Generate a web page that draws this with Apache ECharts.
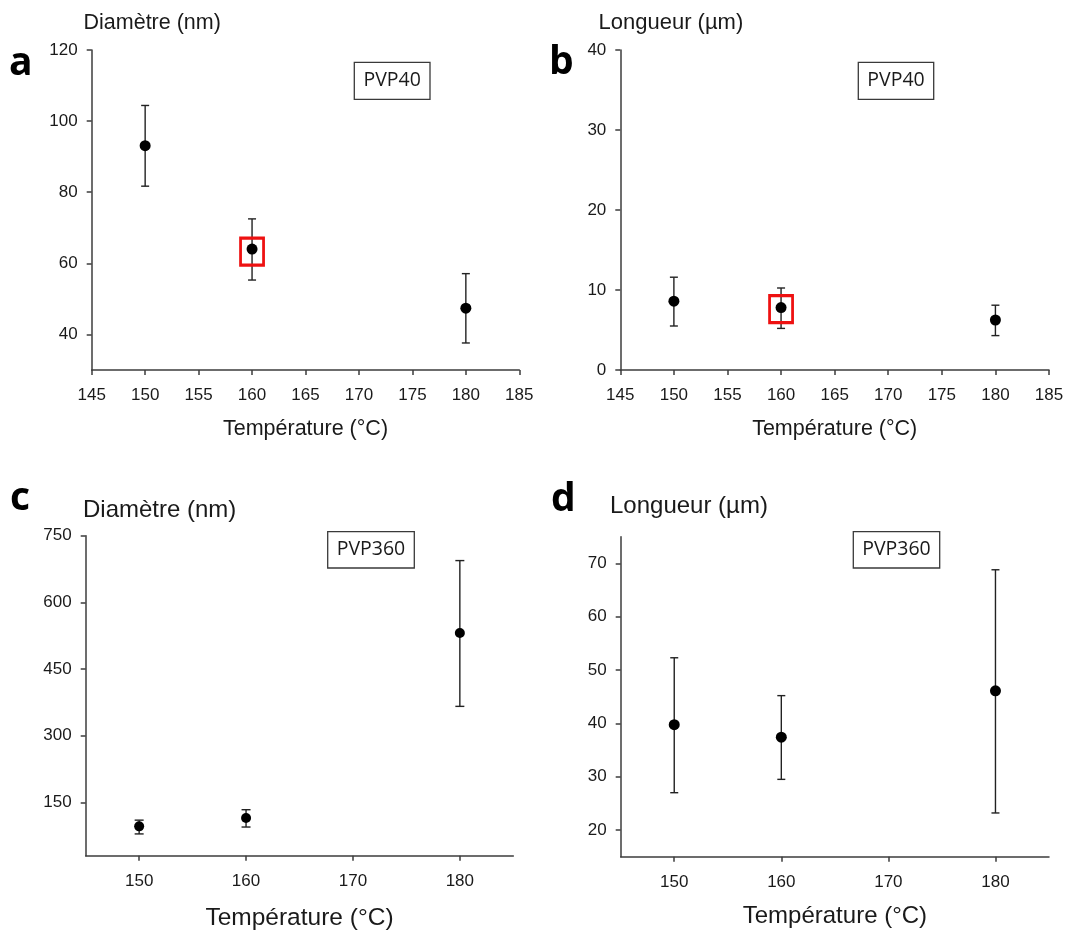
<!DOCTYPE html>
<html>
<head>
<meta charset="utf-8">
<script src="https://cdn.jsdelivr.net/npm/echarts@6/dist/echarts.min.js"></script>
<style>html,body{margin:0;padding:0;background:#fff}#c{width:1086px;height:930px}</style>
</head>
<body>
<div id="c"></div>
<script>
// ---- data ----
const temps = [150, 160, 180];
// (a) PVP40 diameter (nm)
const diamPVP40 = [93.1, 64.0, 47.4];
const diamPVP40Lo = [81.7, 55.3, 37.6];
const diamPVP40Hi = [104.4, 72.5, 57.1];
// (b) PVP40 length (µm)
const lenPVP40 = [8.6, 7.8, 6.25];
const lenPVP40Lo = [5.5, 5.2, 4.3];
const lenPVP40Hi = [11.6, 10.25, 8.1];
// (c) PVP360 diameter (nm)
const diamPVP360 = [96, 115, 531];
const diamPVP360Lo = [79, 94.5, 366];
const diamPVP360Hi = [110, 133.5, 694];
// (d) PVP360 length (µm)
const lenPVP360 = [39.75, 37.4, 46.1];
const lenPVP360Lo = [27, 29.5, 23.2];
const lenPVP360Hi = [52.3, 45.2, 68.8];
// highlighted sample (red square) at 160 °C
const highlightA = [[160, 63.3]];
const highlightB = [[160, 7.6]];
// tick labels
const xTicksCD = [150, 160, 170, 180];
const yTicksA = [40, 60, 80, 100, 120];
const yTicksC = [150, 300, 450, 600, 750];
const yTicksD = [20, 30, 40, 50, 60, 70];

const labelFont = '"Liberation Sans", Arial, sans-serif';
const axisColor = '#3c3c3c';
const textColor = '#1a1a1a';

function pts(vals) { return temps.map((t, i) => [t, vals[i]]); }
function bars(lo, hi) { return temps.map((t, i) => [t, lo[i], hi[i]]); }

function errRender(cap) {
  return function (params, api) {
    const x = api.value(0), lo = api.value(1), hi = api.value(2);
    const a = api.coord([x, hi]);
    const b = api.coord([x, lo]);
    const h = cap / 2;
    const st = { stroke: '#222', lineWidth: 1.4 };
    return {
      type: 'group',
      children: [
        { type: 'line', shape: { x1: a[0], y1: a[1], x2: b[0], y2: b[1] }, style: st },
        { type: 'line', shape: { x1: a[0] - h, y1: a[1], x2: a[0] + h, y2: a[1] }, style: st },
        { type: 'line', shape: { x1: b[0] - h, y1: b[1], x2: b[0] + h, y2: b[1] }, style: st }
      ]
    };
  };
}

function xAxisCfg(idx, custom) {
  const ax = {
    type: 'value', gridIndex: idx, min: 145, max: 185,
    splitLine: { show: false },
    axisLine: { lineStyle: { color: axisColor, width: 1.5 } },
    axisTick: { length: 5, lineStyle: { color: axisColor, width: 1.5 } },
    axisLabel: { fontFamily: labelFont, fontSize: 17, color: textColor, margin: 17 }
  };
  if (custom) {
    ax.axisLabel.customValues = custom;
    ax.axisTick.customValues = custom;
  } else {
    ax.interval = 5;
  }
  return ax;
}
function yAxisCfg(idx, min, max, custom, interval) {
  const ax = {
    type: 'value', gridIndex: idx, min: min, max: max,
    splitLine: { show: false },
    axisLine: { show: true, lineStyle: { color: axisColor, width: 1.5 } },
    axisTick: { show: true, length: 5, lineStyle: { color: axisColor, width: 1.5 } },
    axisLabel: { fontFamily: labelFont, fontSize: 17, color: textColor, margin: 14 }
  };
  if (custom) {
    ax.axisLabel.customValues = custom;
    ax.axisTick.customValues = custom;
  } else {
    ax.interval = interval;
  }
  return ax;
}

function scatter(idx, data, size) {
  return {
    type: 'scatter', xAxisIndex: idx, yAxisIndex: idx, data: data,
    symbol: 'circle', symbolSize: size, z: 5,
    itemStyle: { color: '#000', opacity: 1 }
  };
}
function errSeries(idx, data, cap) {
  return {
    type: 'custom', xAxisIndex: idx, yAxisIndex: idx, data: data,
    renderItem: errRender(cap), encode: { x: 0, y: [1, 2] }, z: 3
  };
}
function highlight(idx, data) {
  return {
    type: 'scatter', xAxisIndex: idx, yAxisIndex: idx, data: data,
    symbol: 'rect', symbolSize: [23, 27], z: 6,
    itemStyle: { color: 'rgba(0,0,0,0)', borderColor: '#ee1111', borderWidth: 3, opacity: 1 }
  };
}

function txt(x, y, s, size, opts) {
  return {
    type: 'text', x: x, y: y, silent: true,
    style: Object.assign({
      text: s, font: size + 'px ' + labelFont, fill: textColor,
      align: 'left', verticalAlign: 'middle'
    }, opts || {})
  };
}
function letter(x, y, s) {
  return {
    type: 'text', x: x, y: y, silent: true,
    style: { text: s, font: 'bold 39px "Open Sans", sans-serif', fill: '#000', align: 'left', verticalAlign: 'middle' }
  };
}
function box(x1, y1, x2, y2, s) {
  return [
    { type: 'rect', shape: { x: x1, y: y1, width: x2 - x1, height: y2 - y1 }, silent: true,
      style: { fill: '#fff', stroke: '#3a3a3a', lineWidth: 1.3 } },
    { type: 'text', x: (x1 + x2) / 2, y: (y1 + y2) / 2, silent: true,
      style: { text: s, font: '19.5px "Open Sans", sans-serif', fill: '#1a1a1a', align: 'center', verticalAlign: 'middle' } }
  ];
}

const chart = echarts.init(document.getElementById('c'), null, { renderer: 'canvas' });
chart.setOption({
  animation: false,
  backgroundColor: '#fff',
  grid: [
    { left: 91.7, top: 50, width: 427.6, height: 320, outerBoundsMode: 'none' },
    { left: 620.3, top: 50, width: 428.7, height: 320, outerBoundsMode: 'none' },
    { left: 85.7, top: 535.7, width: 427.6, height: 320, outerBoundsMode: 'none' },
    { left: 620.7, top: 536.7, width: 428.3, height: 320, outerBoundsMode: 'none' }
  ],
  xAxis: [
    xAxisCfg(0, null),
    xAxisCfg(1, null),
    xAxisCfg(2, xTicksCD),
    xAxisCfg(3, xTicksCD)
  ],
  yAxis: [
    yAxisCfg(0, 30, 120, yTicksA),
    yAxisCfg(1, 0, 40, null, 10),
    yAxisCfg(2, 30, 750, yTicksC),
    yAxisCfg(3, 15, 75, yTicksD)
  ],
  series: [
    errSeries(0, bars(diamPVP40Lo, diamPVP40Hi), 8),
    scatter(0, pts(diamPVP40), 11),
    highlight(0, highlightA),
    errSeries(1, bars(lenPVP40Lo, lenPVP40Hi), 8),
    scatter(1, pts(lenPVP40), 11),
    highlight(1, highlightB),
    errSeries(2, bars(diamPVP360Lo, diamPVP360Hi), 9),
    scatter(2, pts(diamPVP360), 10),
    errSeries(3, bars(lenPVP360Lo, lenPVP360Hi), 8),
    scatter(3, pts(lenPVP360), 11)
  ],
  graphic: [
    letter(9, 63.6, 'a'),
    letter(549, 63.3, 'b'),
    letter(10, 498.6, 'c'),
    letter(551, 500.3, 'd'),
    txt(83.5, 23.3, 'Diamètre (nm)', 21.5),
    txt(598.5, 23.3, 'Longueur (µm)', 22),
    txt(83, 510, 'Diamètre (nm)', 24),
    txt(610, 506.7, 'Longueur (µm)', 24),
    txt(305.5, 428.9, 'Température (°C)', 21.5, { align: 'center' }),
    txt(834.7, 428.9, 'Température (°C)', 21.5, { align: 'center' }),
    txt(299.5, 918.3, 'Température (°C)', 24.5, { align: 'center' }),
    txt(834.9, 916, 'Température (°C)', 24, { align: 'center' })
  ].concat(
    box(354.3, 62.3, 430, 99.3, 'PVP40'),
    box(858.3, 62.3, 933.7, 99.3, 'PVP40'),
    box(327.7, 531.7, 414.3, 568, 'PVP360'),
    box(853.3, 531.7, 939.7, 568, 'PVP360')
  )
});
</script>
</body>
</html>
